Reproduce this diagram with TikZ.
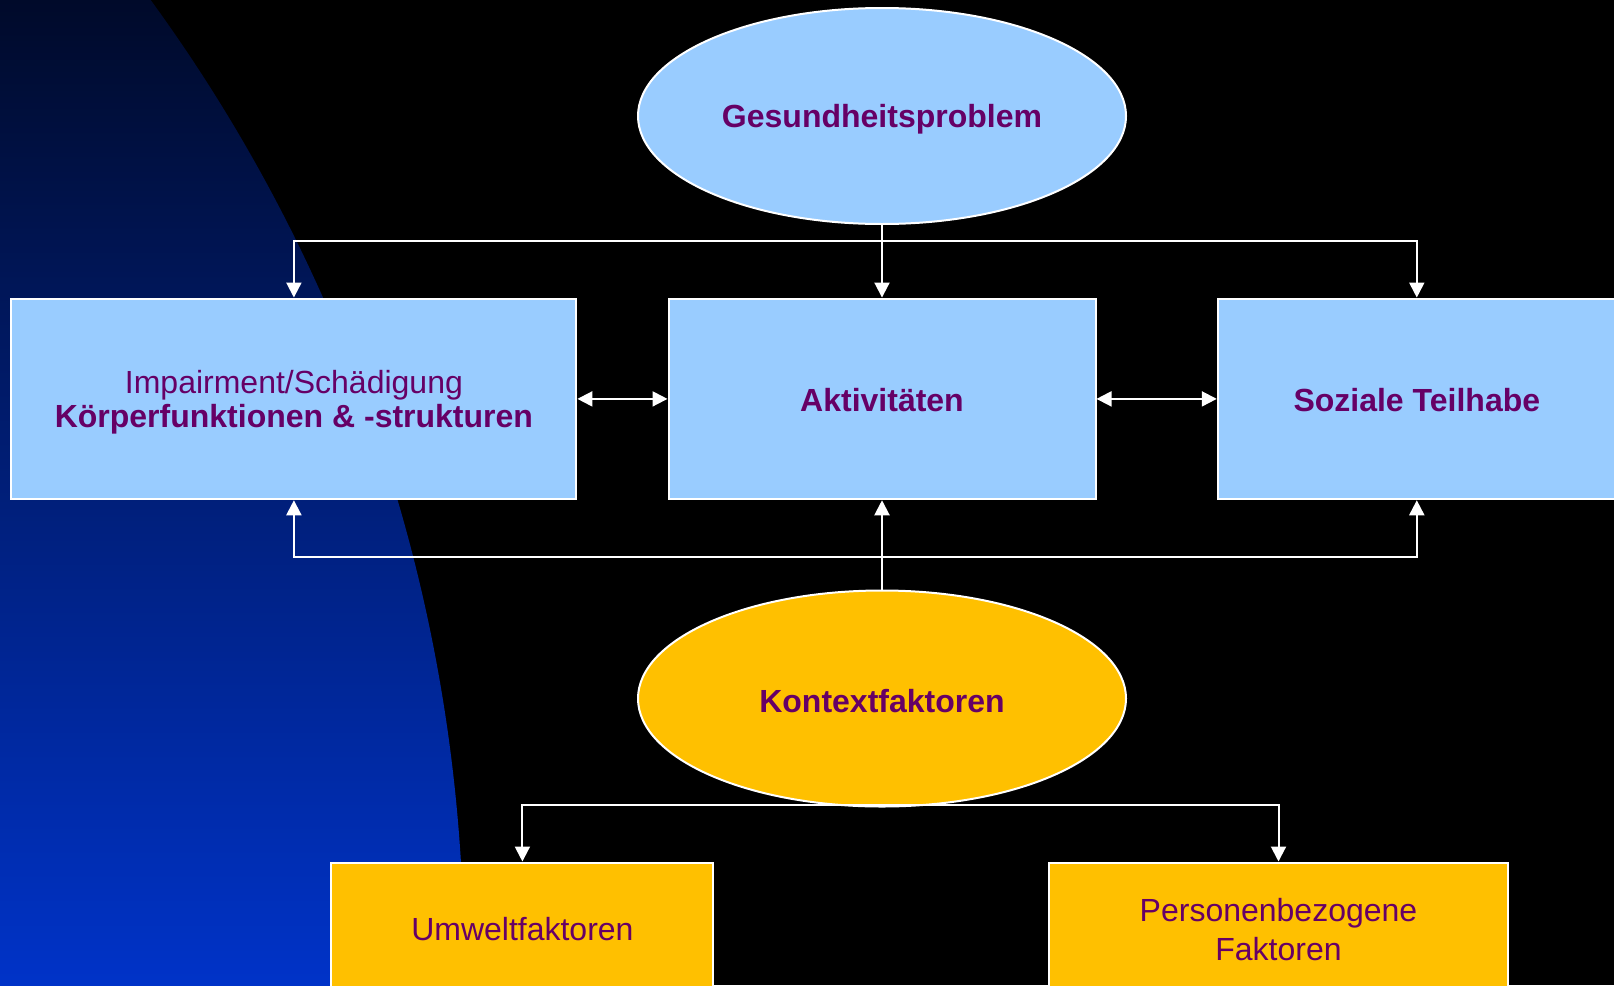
\documentclass[tikz,border=0pt]{standalone}
\usepackage{fontspec}
\setmainfont{Liberation Sans}
\usetikzlibrary{shapes.geometric,arrows.meta}
\definecolor{txt}{RGB}{102,0,102}
\definecolor{lblue}{RGB}{153,204,255}
\definecolor{gold}{RGB}{255,192,0}
\definecolor{navytop}{RGB}{0,10,42}
\definecolor{navymid}{RGB}{0,38,150}
\definecolor{navybot}{RGB}{0,51,200}
\begin{document}
\begin{tikzpicture}[x=1pt,y=-1pt,
  rg/.style={font=\fontsize{32}{34}\selectfont},
  bd/.style={font=\fontsize{32}{34}\selectfont\bfseries},
  box/.style={rectangle, draw=white, line width=2pt, inner sep=0pt, align=center, text=txt},
  oval/.style={ellipse, draw=white, line width=2pt, inner sep=0pt, minimum width=488pt, minimum height=216pt, text=txt},
  conn/.style={draw=white, line width=2pt},
  arr/.style={conn, -{Triangle[length=15pt,width=15pt]}},
  darr/.style={conn, {Triangle[length=15pt,width=15pt]}-{Triangle[length=15pt,width=15pt]}},
]
\useasboundingbox (0,0) rectangle (1614,985);
\fill[black] (0,0) rectangle (1614,985);
\begin{scope}
  \clip (-1172,963) circle[radius=1636pt];
  \shade[top color=navytop, middle color=navymid, bottom color=navybot] (0,0) rectangle (1614,985);
\end{scope}

\node[oval, bd, fill=lblue, text height=30.5pt, text depth=6.7pt] (gp) at (882,116) {Gesundheitsproblem};
\node[box, fill=lblue, minimum width=565pt, minimum height=200.7pt, rg] (imp) at (293.9,398.9)
  {\rule{0pt}{29.5pt}Impairment/Schädigung\\{\bfseries Körperfunktionen \& -strukturen}};
\node[box, bd, fill=lblue, minimum width=427pt, minimum height=200.7pt, text height=25.3pt, text depth=0pt] (akt) at (882,398.9) {Aktivitäten};
\node[box, bd, fill=lblue, minimum width=398pt, minimum height=200.7pt, text height=25.3pt, text depth=0pt] (soz) at (1416.8,398.9) {Soziale Teilhabe};
\node[oval, bd, fill=gold, text height=27.5pt, text depth=0pt] (kf) at (882,698.5) {Kontextfaktoren};
\node[box, rg, fill=gold, minimum width=382pt, minimum height=129pt, text height=27.3pt, text depth=0pt] (umw) at (522.4,927) {Umweltfaktoren};
\node[box, fill=gold, minimum width=459pt, minimum height=129pt, font=\fontsize{32}{39}\selectfont] (pers) at (1278.5,927) {\rule{0pt}{27.5pt}Personenbezogene\\Faktoren};

\coordinate (tj) at (882,241);
\coordinate (bj) at (882,557);
\coordinate (kj) at (882,805);

\draw[conn] (gp.south) -- (tj);
\draw[arr] (tj) -| (imp.north);
\draw[arr] (tj) -| (soz.north);
\draw[arr] (tj) -- (akt.north);

\draw[arr] (kf.north) -- (akt.south);
\draw[arr] (bj) -| (imp.south);
\draw[arr] (bj) -| (soz.south);

\draw[arr] (kj) -| (umw.north);
\draw[arr] (kj) -| (pers.north);

\draw[darr] (imp.east) -- (akt.west);
\draw[darr] (akt.east) -- (soz.west);
\end{tikzpicture}
\end{document}
